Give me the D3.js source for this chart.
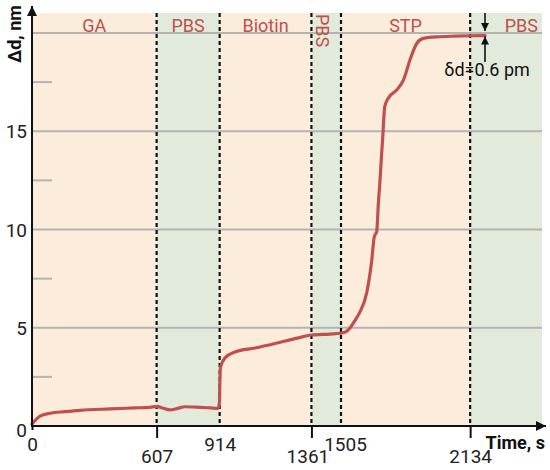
<!DOCTYPE html>
<html>
<head>
<meta charset="utf-8">
<script src="https://cdn.jsdelivr.net/npm/d3@7"></script>
<style>
  body { margin: 0; background: #fff; }
  text { font-family: Roboto, "Liberation Sans", sans-serif; }
</style>
</head>
<body>
<svg id="chart" width="550" height="470"></svg>
<script>
// phases of the experiment
const phaseNames = ["GA", "PBS", "Biotin", "PBS", "STP", "PBS"];
const phaseBounds = [0, 607, 914, 1361, 1505, 2134, 2484];
const phaseKind = ["peach", "green", "peach", "green", "peach", "green"];

const timeS = [0, 39, 88, 160, 234, 380, 500, 575, 607, 640, 672, 710, 745, 818, 870, 906, 913,
  915, 918, 940, 989, 1086, 1184, 1291, 1361, 1451, 1505, 1530, 1549, 1575, 1598, 1630, 1655,
  1667, 1675, 1679, 1687, 1695, 1703, 1709, 1713, 1718, 1735, 1776, 1809, 1841, 1874, 1906,
  1987, 2060, 2134, 2207];
const deltaD = [0.1, 0.5, 0.65, 0.73, 0.8, 0.87, 0.92, 0.95, 1.0, 0.9, 0.82, 0.9, 0.98, 0.95, 0.92, 0.9, 1.2,
  2.2, 3.0, 3.46, 3.77, 3.97, 4.2, 4.47, 4.63, 4.68, 4.72, 4.8, 4.99, 5.4, 5.82, 6.77, 8.45,
  9.63, 9.8, 9.89, 11.33, 12.5, 13.88, 14.8, 15.6, 16.25, 16.68, 17.1, 17.6, 18.63, 19.47, 19.73,
  19.81, 19.84, 19.86, 19.87];

const yTicks = [0, 5, 10, 15];
const yGrid = [5, 10, 15, 20];
const yMinor = [2.5, 7.5, 12.5, 17.5];
const xTicks = [0, 607, 914, 1361, 1505, 2134];
const xTickLow = [607, 1361, 2134];

const svg = d3.select('#chart');
const W = 550, H = 470;
const margin = {left: 32, right: 8, top: 13, bottom: 44};
const red = "#c0504d";
const colors = {peach: "#fcecdc", green: "#e2ebdb"};

const x = d3.scaleLinear().domain([0, 2484]).range([margin.left, W - margin.right]);
const y = d3.scaleLinear().domain([0, 20]).range([H - margin.bottom, 33]);
const y0 = y(0);

// background bands
svg.append("g").selectAll("rect")
    .data(phaseNames)
    .enter().append("rect")
    .attr("x", (d, i) => x(phaseBounds[i]))
    .attr("width", (d, i) => x(phaseBounds[i + 1]) - x(phaseBounds[i]))
    .attr("y", margin.top)
    .attr("height", y0 - margin.top)
    .attr("fill", (d, i) => colors[phaseKind[i]]);

// grid lines
svg.append("g").selectAll("line")
    .data(yGrid)
    .enter().append("line")
    .attr("x1", x(0)).attr("x2", x(2484))
    .attr("y1", d => y(d)).attr("y2", d => y(d))
    .attr("stroke", "#b3b3b3")
    .attr("stroke-width", 2);

svg.append("g").selectAll("line")
    .data(yMinor)
    .enter().append("line")
    .attr("x1", x(0)).attr("x2", x(0) + 20)
    .attr("y1", d => y(d)).attr("y2", d => y(d))
    .attr("stroke", "#b3b3b3")
    .attr("stroke-width", 2);

// phase labels
svg.append("g").selectAll("text")
    .data(phaseNames)
    .enter().append("text")
    .attr("transform", function (d, i) {
        const a = x(phaseBounds[i]), b = x(phaseBounds[i + 1]);
        if (i === 3) return "translate(" + (a + 5) + ",14) rotate(90)";
        if (i === 5) return "translate(" + (b - 4) + ",32)";
        return "translate(" + ((a + b) / 2) + ",32)";
    })
    .attr("text-anchor", (d, i) => i === 3 ? "start" : (i === 5 ? "end" : "middle"))
    .attr("fill", red)
    .style("font-size", "18px")
    .text(d => d);

// dotted separators
svg.append("g").selectAll("line")
    .data(phaseBounds.slice(1, -1))
    .enter().append("line")
    .attr("x1", d => x(d)).attr("x2", d => x(d))
    .attr("y1", margin.top).attr("y2", y0)
    .attr("stroke", "#111")
    .attr("stroke-width", 2.2)
    .attr("stroke-dasharray", "4,3");

// curve
const line = d3.line()
    .x((d, i) => x(timeS[i]))
    .y(d => y(d))
    .curve(d3.curveMonotoneX);

svg.append("path")
    .datum(deltaD)
    .attr("d", line)
    .attr("fill", "none")
    .attr("stroke", red)
    .attr("stroke-width", 3.2)
    .attr("stroke-linejoin", "round")
    .attr("stroke-linecap", "round");

// y axis
const yAxis = svg.append("g")
    .attr("transform", "translate(" + x(0) + ",0)")
    .call(d3.axisLeft(y).tickValues(yTicks).tickSize(0).tickPadding(5));
yAxis.select(".domain").remove();
yAxis.selectAll("text")
    .style("font-size", "19px")
    .attr("fill", "#222")
    .attr("dy", d => d === 0 ? "0.55em" : "0.35em");

// x axis
const xAxis = svg.append("g")
    .attr("transform", "translate(0," + y0 + ")")
    .call(d3.axisBottom(x).tickValues(xTicks).tickFormat(d3.format("d")).tickSize(0));
xAxis.select(".domain").remove();
xAxis.selectAll(".tick line")
    .attr("y2", d => xTickLow.includes(d) ? 12 : (d === 0 ? 4 : 0))
    .attr("stroke", "#111")
    .attr("stroke-width", 2);
xAxis.selectAll("text")
    .style("font-size", "19px")
    .attr("fill", "#222")
    .attr("y", d => xTickLow.includes(d) ? 24 : 12)
    .attr("dy", "0.71em")
    .attr("dx", d => d === 1361 ? -4 : (d === 1505 ? 4 : 0));

// axis lines with arrows
svg.append("defs").append("marker")
    .attr("id", "arrow")
    .attr("viewBox", "0 -5 10 10")
    .attr("refX", 10).attr("refY", 0)
    .attr("markerWidth", 5).attr("markerHeight", 5)
    .attr("markerUnits", "strokeWidth")
    .attr("orient", "auto")
    .append("path")
    .attr("d", "M0,-5L10,0L0,5Z")
    .attr("fill", "#111");

svg.append("line")
    .attr("x1", x(0)).attr("x2", x(0))
    .attr("y1", y0 + 1).attr("y2", 6)
    .attr("stroke", "#111").attr("stroke-width", 2)
    .attr("marker-end", "url(#arrow)");

svg.append("line")
    .attr("x1", x(0) - 1).attr("x2", 546)
    .attr("y1", y0).attr("y2", y0)
    .attr("stroke", "#111").attr("stroke-width", 2)
    .attr("marker-end", "url(#arrow)");

// axis titles
svg.append("text")
    .attr("transform", "translate(21,34) rotate(-90)")
    .attr("text-anchor", "middle")
    .style("font-size", "18px")
    .style("font-weight", "bold")
    .attr("fill", "#111")
    .text("Δd, nm");

svg.append("text")
    .attr("x", 545).attr("y", 449)
    .attr("text-anchor", "end")
    .style("font-size", "18px")
    .style("font-weight", "bold")
    .attr("fill", "#111")
    .text("Time, s");

// δd annotation
const ax = 485;
const ann = svg.append("g").attr("stroke", "#111").attr("fill", "#111");
ann.append("line").attr("x1", ax).attr("x2", ax).attr("y1", 13).attr("y2", y(20) - 2)
    .attr("stroke-width", 1.6).attr("marker-end", "url(#arrow)");
ann.append("line").attr("x1", ax).attr("x2", ax).attr("y1", 62).attr("y2", y(19.87) + 1)
    .attr("stroke-width", 1.6).attr("marker-end", "url(#arrow)");

svg.append("text")
    .attr("x", 487).attr("y", 76)
    .attr("text-anchor", "middle")
    .style("font-size", "18px")
    .attr("fill", "#111")
    .text("δd=0.6 pm");
</script>
</body>
</html>
